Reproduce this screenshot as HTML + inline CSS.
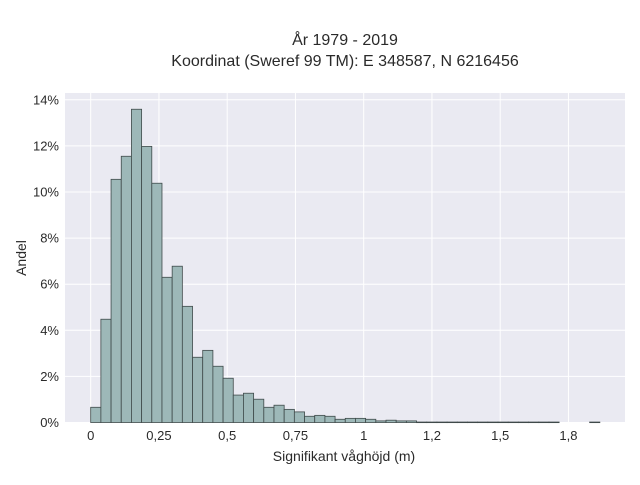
<!DOCTYPE html>
<html><head><meta charset="utf-8"><style>
body{margin:0;background:#fff;font-family:"Liberation Sans",sans-serif;}
svg text{font-family:"Liberation Sans",sans-serif;fill:#2a2a2a;}
</style></head><body>
<svg id="chart" width="640" height="480" viewBox="0 0 640 480" xmlns="http://www.w3.org/2000/svg">
<rect x="0" y="0" width="640" height="480" fill="#fff"/>
<text x="345" y="45" text-anchor="middle" font-size="16">År 1979 - 2019</text>
<text x="345" y="66" text-anchor="middle" font-size="16">Koordinat (Sweref 99 TM): E 348587, N 6216456</text>
<rect x="65" y="93" width="560" height="330" fill="#eaeaf2"/>
<g id="grid"></g>
<g id="bars"></g>
<g id="xt"></g>
<g id="yt"></g>
<text x="344" y="461" text-anchor="middle" font-size="14">Signifikant våghöjd (m)</text>
<text x="26" y="258" text-anchor="middle" font-size="14" transform="rotate(-90 26 258)">Andel</text>
</svg>
<script>
const binWidth = 0.0373;
const binValues = [0.66,4.48,10.55,11.55,13.59,11.98,10.38,6.30,6.78,5.04,2.83,3.13,2.44,1.92,1.19,1.27,1.01,0.66,0.75,0.57,0.46,0.27,0.31,0.27,0.14,0.18,0.18,0.14,0.07,0.10,0.07,0.07,0.02,0.02,0.02,0.02,0.02,0.02,0.02,0.02,0.02,0.02,0.02,0.02,0.02,0.02,0,0,0,0.02];
const xTickValues = [0,0.25,0.5,0.75,1,1.25,1.5,1.75];
const xTickLabels = ["0","0,25","0,5","0,75","1","1,2","1,5","1,8"];
const yTickValues = [0,2,4,6,8,10,12,14];
const yTickLabels = ["0%","2%","4%","6%","8%","10%","12%","14%"];
const NS="http://www.w3.org/2000/svg";
function xs(v){return 90.7+v*273;}
function ys(v){return 422.5-v*23.05;}
const grid=document.getElementById('grid'),bars=document.getElementById('bars'),xt=document.getElementById('xt'),yt=document.getElementById('yt');
yTickValues.forEach((v,i)=>{
  const l=document.createElementNS(NS,'line');
  
  
  l.setAttribute('x1',65);l.setAttribute('x2',625);l.setAttribute('y1',ys(v));l.setAttribute('y2',ys(v));
  l.setAttribute('stroke','#fff');l.setAttribute('stroke-width',1);grid.appendChild(l);
  const t=document.createElementNS(NS,'text');
  
  
  t.setAttribute('x',59);t.setAttribute('y',ys(v)+4.5);t.setAttribute('text-anchor','end');t.setAttribute('font-size','13');
  t.textContent=yTickLabels[i];yt.appendChild(t);
});
xTickValues.forEach((v,i)=>{
  const l=document.createElementNS(NS,'line');
  
  
  l.setAttribute('x1',xs(v));l.setAttribute('x2',xs(v));l.setAttribute('y1',93);l.setAttribute('y2',423);
  l.setAttribute('stroke','#fff');l.setAttribute('stroke-width',1);grid.appendChild(l);
  const t=document.createElementNS(NS,'text');
  
  
  t.setAttribute('x',xs(v));t.setAttribute('y',440);t.setAttribute('text-anchor','middle');t.setAttribute('font-size','13');
  t.textContent=xTickLabels[i];xt.appendChild(t);
});
binValues.forEach((v,i)=>{
  if(v<=0)return;
  const r=document.createElementNS(NS,'rect');
  
  
  const x0=xs(i*binWidth),x1=xs((i+1)*binWidth);
  r.setAttribute('x',x0);r.setAttribute('width',x1-x0);
  r.setAttribute('y',ys(v));r.setAttribute('height',Math.max(ys(0)-ys(v),0.6));
  r.setAttribute('fill','#9db8b8');r.setAttribute('stroke','#3f4a4a');r.setAttribute('stroke-width','0.8');
  bars.appendChild(r);
});
</script>
</body></html>
